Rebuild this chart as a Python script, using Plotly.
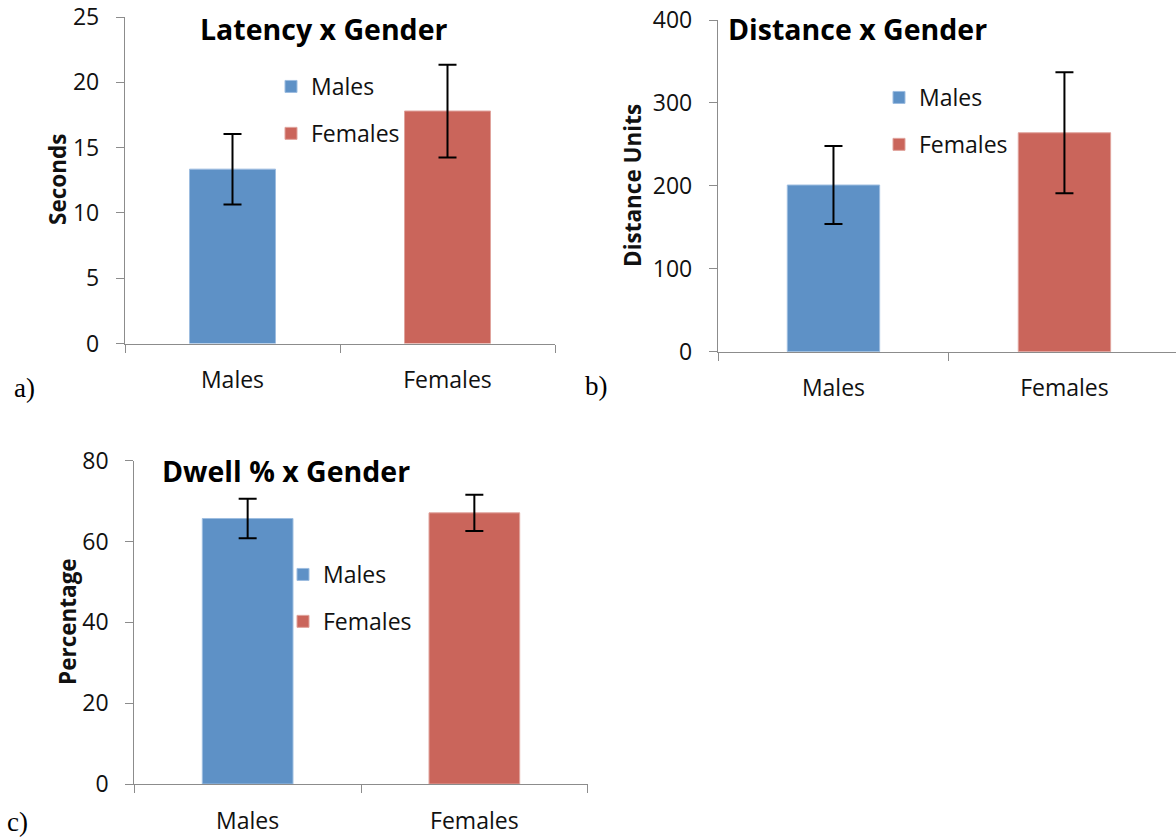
import plotly.graph_objects as go

# ---- data ----
groups = ["Males", "Females"]

latency_mean = [13.35, 17.8]
latency_err = [2.7, 3.55]

distance_mean = [201, 264]
distance_err = [47, 73]

dwell_mean = [65.7, 67.1]
dwell_err = [4.9, 4.5]

panel_titles = ["Latency x Gender", "Distance x Gender", "Dwell % x Gender"]
y_titles = ["Seconds", "Distance Units", "Percentage"]
panel_tags = ["a)", "b)", "c)"]

y_ranges = [[0, 25], [0, 400], [0, 80]]
y_dticks = [5, 100, 20]

# ---- styling ----
W, H = 1176, 837
FONT = "Open Sans"
BLUE = "#5E91C6"
RED = "#CA655B"
EDGE = {"Males": "#9DBDE0", "Females": "#E0A39C"}
FILL = {"Males": BLUE, "Females": RED}
AXIS_GREY = "#8C8C8C"


def px_x(x):
    return x / W


def px_y(y):
    return 1 - y / H


fig = go.Figure()

panels = [
    (latency_mean, latency_err, "x", "y", "legend"),
    (distance_mean, distance_err, "x2", "y2", "legend2"),
    (dwell_mean, dwell_err, "x3", "y3", "legend3"),
]

for p, (means, errs, xa, ya, leg) in enumerate(panels):
    for i, g in enumerate(groups):
        fig.add_trace(
            go.Bar(
                x=[g],
                y=[means[i]],
                name=g,
                width=0.4,
                marker=dict(color=FILL[g], line=dict(color=EDGE[g], width=1)),
                error_y=dict(
                    type="data",
                    array=[errs[i]],
                    visible=True,
                    color="black",
                    thickness=2,
                    width=9,
                ),
                xaxis=xa,
                yaxis=ya,
                legend=leg,
                legendgroup=f"{leg}-{g}",
                showlegend=True,
            )
        )

# plot areas in pixels: (left, right, top, bottom)
areas = [
    (125.0, 555.0, 17.0, 343.5),
    (718.0, 1176.0, 20.0, 351.7),
    (134.3, 587.7, 460.7, 784.0),
]
x_ranges = [[-0.5, 1.5], [-0.5, 1.483], [-0.5, 1.5]]

axis_common_x = dict(
    type="category",
    categoryorder="array",
    categoryarray=groups,
    showline=True,
    linecolor=AXIS_GREY,
    linewidth=1.3,
    ticks="outside",
    tickson="boundaries",
    ticklen=8,
    tickwidth=1.3,
    tickcolor=AXIS_GREY,
    ticklabelstandoff=16,
    ticklabeloverflow="allow",
    tickfont=dict(family=FONT, size=23, color="#111111"),
    showgrid=False,
    zeroline=False,
    fixedrange=True,
    automargin=False,
)

axis_common_y = dict(
    showline=True,
    linecolor=AXIS_GREY,
    linewidth=1.3,
    ticks="outside",
    ticklen=8,
    tickwidth=1.3,
    tickcolor=AXIS_GREY,
    ticklabelstandoff=12,
    ticklabeloverflow="allow",
    tickfont=dict(family=FONT, size=23, color="#111111"),
    showgrid=False,
    zeroline=False,
    fixedrange=True,
    automargin=False,
)

layout_axes = {}
for p, (l, r, t, b) in enumerate(areas):
    sfx = "" if p == 0 else str(p + 1)
    xa = dict(axis_common_x)
    xa.update(domain=[px_x(l), px_x(r)], range=x_ranges[p], anchor="y" + sfx)
    ya = dict(axis_common_y)
    ya.update(
        domain=[px_y(b), px_y(t)],
        range=y_ranges[p],
        dtick=y_dticks[p],
        tick0=0,
        anchor="x" + sfx,
    )
    layout_axes["xaxis" + sfx] = xa
    layout_axes["yaxis" + sfx] = ya

fig.update_layout(**layout_axes)

# legends (one per panel)
legend_pos = [(271, 65), (879, 76), (283, 553)]
legend_keys = ["legend", "legend2", "legend3"]
legend_cfg = {}
for key, (lx, ly) in zip(legend_keys, legend_pos):
    legend_cfg[key] = dict(
        x=px_x(lx),
        y=px_y(ly),
        xanchor="left",
        yanchor="top",
        bgcolor="rgba(0,0,0,0)",
        borderwidth=0,
        font=dict(family=FONT, size=23, color="#111111"),
        tracegroupgap=14,
        traceorder="grouped",
        itemclick=False,
        itemdoubleclick=False,
    )
fig.update_layout(**legend_cfg)

annotations = []

# chart titles
title_specs = [
    (324, 29, "center"),
    (726, 29, "left"),
    (160, 471, "left"),
]
for text, (tx, ty, anc) in zip(panel_titles, title_specs):
    annotations.append(
        dict(
            text=text,
            x=px_x(tx),
            y=px_y(ty),
            xref="paper",
            yref="paper",
            xanchor=anc,
            yanchor="middle",
            showarrow=False,
            font=dict(family=FONT, size=28.5, color="#000000", weight="bold"),
        )
    )

# rotated y-axis titles
ytitle_specs = [(57, 180), (632, 186), (67, 622)]
for text, (tx, ty) in zip(y_titles, ytitle_specs):
    annotations.append(
        dict(
            text=text,
            x=px_x(tx),
            y=px_y(ty),
            xref="paper",
            yref="paper",
            xanchor="center",
            yanchor="middle",
            textangle=-90,
            showarrow=False,
            font=dict(family=FONT, size=22.5, color="#111111", weight="bold"),
        )
    )

# panel tags
tag_specs = [(12, 388), (583, 386), (5, 822)]
for text, (tx, ty) in zip(panel_tags, tag_specs):
    annotations.append(
        dict(
            text=text,
            x=px_x(tx),
            y=px_y(ty),
            xref="paper",
            yref="paper",
            xanchor="left",
            yanchor="middle",
            showarrow=False,
            font=dict(family="Liberation Serif", size=27, color="#000000"),
        )
    )

fig.update_layout(
    width=W,
    height=H,
    margin=dict(l=0, r=0, t=0, b=0, autoexpand=False),
    paper_bgcolor="white",
    plot_bgcolor="white",
    barmode="overlay",
    annotations=annotations,
    font=dict(family=FONT, color="#111111"),
)

fig.write_html("out.html", config={"displayModeBar": False})
